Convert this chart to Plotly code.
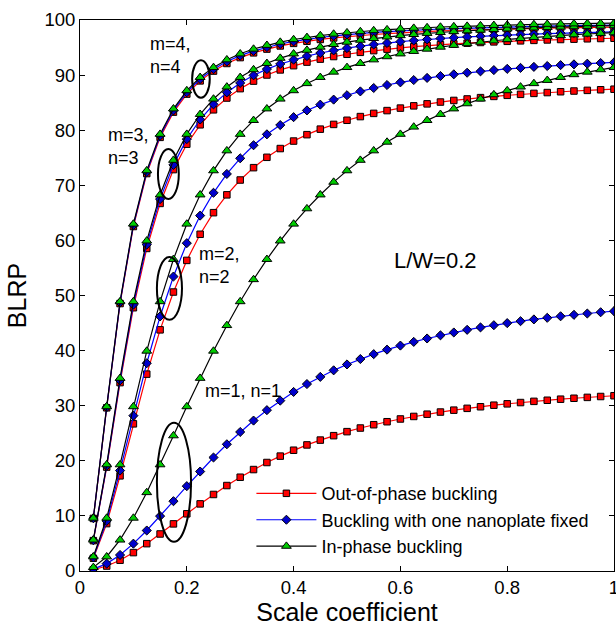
import plotly.graph_objects as go

x = [round(0.025 * i, 3) for i in range(1, 41)]

# Out-of-phase buckling (red squares)
r1 = [0.23, 0.90, 1.96, 3.34, 4.96, 6.72, 8.55, 10.38, 12.18, 13.89, 15.51, 17.02, 18.41, 19.69, 20.85, 21.92,
      22.88, 23.76, 24.56, 25.29, 25.95, 26.55, 27.09, 27.59, 28.05, 28.46, 28.85, 29.19, 29.52, 29.81, 30.09,
      30.34, 30.57, 30.79, 30.99, 31.18, 31.35, 31.51, 31.67, 31.81]
r2 = [2.32, 8.60, 17.27, 26.71, 35.73, 43.77, 50.63, 56.37, 61.11, 65.03, 68.27, 70.96, 73.20, 75.08, 76.67,
      78.03, 79.19, 80.19, 81.05, 81.80, 82.47, 83.05, 83.56, 84.01, 84.42, 84.78, 85.11, 85.40, 85.67, 85.91,
      86.13, 86.33, 86.51, 86.68, 86.83, 86.98, 87.11, 87.23, 87.34, 87.44]
r3 = [5.51, 18.86, 34.19, 47.78, 58.54, 66.71, 72.85, 77.46, 80.98, 83.70, 85.84, 87.54, 88.91, 90.02, 90.94,
      91.71, 92.36, 92.90, 93.37, 93.78, 94.13, 94.44, 94.71, 94.94, 95.15, 95.35, 95.51, 95.66, 95.79, 95.92,
      96.03, 96.13, 96.22, 96.30, 96.38, 96.46, 96.52, 96.59, 96.64, 96.69]
r4 = [9.54, 29.62, 48.54, 62.52, 72.13, 78.70, 83.28, 86.55, 88.95, 90.73, 92.11, 93.18, 94.04, 94.72, 95.29,
      95.76, 96.14, 96.47, 96.75, 96.99, 97.20, 97.37, 97.53, 97.67, 97.80, 97.91, 98.01, 98.09, 98.17, 98.25,
      98.31, 98.37, 98.42, 98.47, 98.52, 98.56, 98.59, 98.62, 98.66, 98.69]

# Buckling with one nanoplate fixed (blue diamonds)
b1 = [0.34, 1.34, 2.91, 4.96, 7.35, 9.96, 12.67, 15.40, 18.05, 20.60, 23.00, 25.23, 27.30, 29.19, 30.92, 32.50,
      33.93, 35.23, 36.42, 37.49, 38.47, 39.36, 40.17, 40.91, 41.58, 42.20, 42.77, 43.29, 43.77, 44.21, 44.61,
      44.99, 45.34, 45.66, 45.95, 46.23, 46.49, 46.73, 46.96, 47.16]
b2 = [2.45, 9.08, 18.23, 28.19, 37.71, 46.20, 53.44, 59.50, 64.50, 68.64, 72.06, 74.90, 77.27, 79.25, 80.93,
      82.37, 83.59, 84.64, 85.55, 86.35, 87.04, 87.66, 88.20, 88.68, 89.10, 89.49, 89.83, 90.14, 90.43, 90.68,
      90.91, 91.13, 91.31, 91.49, 91.65, 91.81, 91.95, 92.07, 92.19, 92.30]
b3 = [5.58, 19.08, 34.59, 48.34, 59.24, 67.50, 73.71, 78.38, 81.94, 84.69, 86.86, 88.58, 89.96, 91.09, 92.02,
      92.80, 93.45, 94.01, 94.48, 94.90, 95.25, 95.56, 95.83, 96.07, 96.28, 96.48, 96.65, 96.79, 96.93, 97.06,
      97.17, 97.27, 97.37, 97.45, 97.53, 97.60, 97.66, 97.73, 97.78, 97.84]
b4 = [9.58, 29.73, 48.72, 62.75, 72.40, 78.99, 83.59, 86.88, 89.28, 91.07, 92.46, 93.53, 94.39, 95.08, 95.64,
      96.11, 96.50, 96.83, 97.11, 97.35, 97.56, 97.74, 97.90, 98.04, 98.17, 98.27, 98.37, 98.45, 98.53, 98.61,
      98.67, 98.73, 98.78, 98.83, 98.88, 98.92, 98.96, 98.99, 99.03, 99.06]

# In-phase buckling (green triangles)
g1 = [0.66, 2.59, 5.64, 9.61, 14.25, 19.30, 24.56, 29.84, 34.99, 39.92, 44.57, 48.90, 52.90, 56.57, 59.92, 62.98,
      65.76, 68.28, 70.58, 72.66, 74.56, 76.28, 77.85, 79.28, 80.59, 81.79, 82.89, 83.89, 84.82, 85.67, 86.46,
      87.19, 87.86, 88.48, 89.06, 89.60, 90.10, 90.56, 91.00, 91.40]
g2 = [2.59, 9.61, 19.30, 29.84, 39.92, 48.90, 56.57, 62.98, 68.28, 72.66, 76.28, 79.28, 81.79, 83.89, 85.67,
      87.19, 88.48, 89.60, 90.56, 91.40, 92.14, 92.79, 93.36, 93.87, 94.32, 94.73, 95.09, 95.42, 95.72, 95.99,
      96.23, 96.46, 96.66, 96.85, 97.02, 97.18, 97.33, 97.46, 97.59, 97.70]
g3 = [5.64, 19.30, 34.99, 48.90, 59.92, 68.28, 74.56, 79.28, 82.89, 85.67, 87.86, 89.60, 91.00, 92.14, 93.08,
      93.87, 94.53, 95.09, 95.57, 95.99, 96.35, 96.66, 96.94, 97.18, 97.39, 97.59, 97.76, 97.91, 98.05, 98.18,
      98.29, 98.39, 98.49, 98.57, 98.65, 98.73, 98.79, 98.86, 98.91, 98.97]
g4 = [9.61, 29.84, 48.90, 62.98, 72.66, 79.28, 83.89, 87.19, 89.60, 91.40, 92.79, 93.87, 94.73, 95.42, 95.99,
      96.46, 96.85, 97.18, 97.46, 97.70, 97.91, 98.09, 98.25, 98.39, 98.52, 98.63, 98.73, 98.81, 98.89, 98.97,
      99.03, 99.09, 99.14, 99.19, 99.24, 99.28, 99.32, 99.35, 99.39, 99.42]

series_names = ["Out-of-phase buckling", "Buckling with one nanoplate fixed", "In-phase buckling"]
groups = [[r1, r2, r3, r4], [b1, b2, b3, b4], [g1, g2, g3, g4]]
line_colors = ["#ff0000", "#0000ff", "#000000"]
fill_colors = ["#ff0000", "#0000cc", "#00cc00"]
symbols = ["square", "diamond", "triangle-up"]
sizes = [6.5, 7, 8.5]

FONT = "Liberation Sans, Arial, sans-serif"

fig = go.Figure()
for si in range(3):
    for mi, ys in enumerate(groups[si]):
        fig.add_trace(go.Scatter(
            x=x, y=ys, mode="lines+markers",
            name=series_names[si], legendgroup=series_names[si],
            showlegend=(mi == 0),
            line=dict(color=line_colors[si], width=1.2),
            marker=dict(symbol=symbols[si], size=sizes[si], color=fill_colors[si],
                        line=dict(color="#000000", width=1)),
        ))

# mode labels
labels = [
    ("m=4,<br>n=4", 0.127, 93.6),
    ("m=3,<br>n=3", 0.049, 77.0),
    ("m=2,<br>n=2", 0.219, 55.4),
    ("m=1, n=1", 0.230, 32.7),
]
for txt, lx, ly in labels:
    fig.add_annotation(x=lx, y=ly, text=txt, showarrow=False, xanchor="left", yanchor="middle",
                       align="left", font=dict(family=FONT, size=18, color="#000000"))
fig.add_annotation(x=0.584, y=56.3, text="L/W=0.2", showarrow=False, xanchor="left", yanchor="middle",
                   font=dict(family=FONT, size=22, color="#000000"))

ellipses = [
    (0.210, 0.243, 85.9, 92.7),
    (0.146, 0.185, 67.5, 76.6),
    (0.144, 0.191, 45.6, 57.0),
    (0.144, 0.208, 5.3, 26.9),
]
for x0, x1, y0, y1 in ellipses:
    fig.add_shape(type="circle", xref="x", yref="y", x0=x0, x1=x1, y0=y0, y1=y1,
                  line=dict(color="#000000", width=2))

axis_common = dict(showline=True, linecolor="#000000", linewidth=1, mirror="ticks",
                   ticks="inside", ticklen=5, tickcolor="#000000", showgrid=False, zeroline=False,
                   automargin=False, ticklabeloverflow="allow",
                   tickfont=dict(family=FONT, size=18.5, color="#000000"))

fig.update_layout(
    width=616, height=627,
    margin=dict(l=80, r=2, t=20, b=56),
    paper_bgcolor="white", plot_bgcolor="white",
    xaxis=dict(range=[0, 1], tickvals=[0, 0.2, 0.4, 0.6, 0.8, 1],
               ticktext=["0", "0.2", "0.4", "0.6", "0.8", "1"],
               title=dict(text="Scale coefficient", font=dict(family=FONT, size=25, color="#000000"),
                          standoff=4),
               **axis_common),
    yaxis=dict(range=[0, 100], tickvals=list(range(0, 101, 10)),
               title=dict(text="BLRP", font=dict(family=FONT, size=25, color="#000000"), standoff=10),
               **axis_common),
    legend=dict(x=0.321, y=0.174, xanchor="left", yanchor="top", bgcolor="rgba(0,0,0,0)",
                borderwidth=0, font=dict(family=FONT, size=18, color="#000000"),
                itemwidth=60, tracegroupgap=0),
    showlegend=True,
)

fig.write_html(
    "out.html",
    config={"displayModeBar": False},
    post_script=("document.documentElement.style.margin='0';"
                 "document.body.style.margin='0';"
                 "document.documentElement.style.overflow='hidden';"
                 "document.body.style.overflow='hidden';"),
)
